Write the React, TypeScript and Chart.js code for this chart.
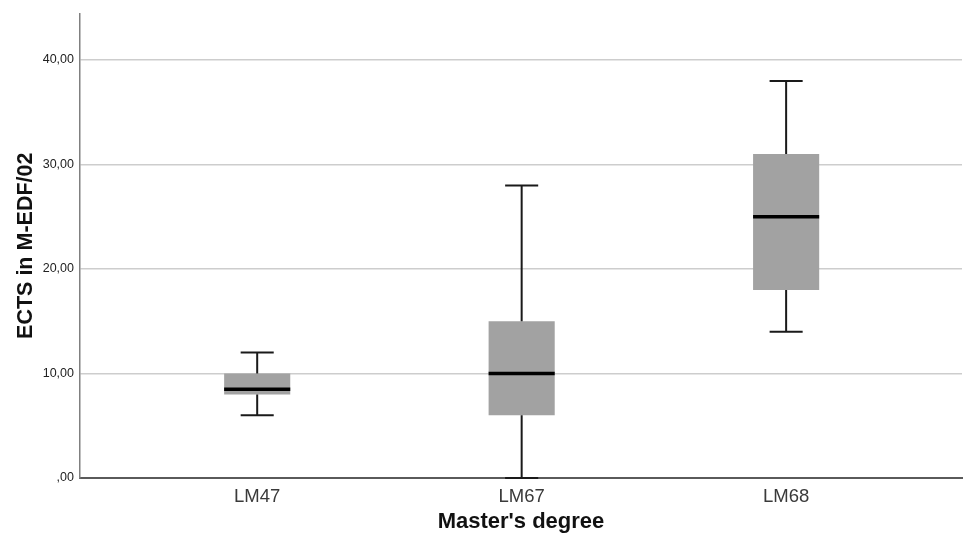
import React, { useEffect, useRef } from "react";
import { Chart, registerables } from "chart.js";

Chart.register(...registerables);

const categories = ["LM47", "LM67", "LM68"];
const minValues = [6, 0, 14];
const q1Values = [8, 6, 18];
const medianValues = [8.5, 10, 25];
const q3Values = [10, 15, 31];
const maxValues = [12, 28, 38];
const yTickValues = [0, 10, 20, 30, 40];

const FONT = "'Liberation Sans', Arial, Helvetica, sans-serif";

const boxWhiskerPlugin = {
  id: "boxWhiskers",
  afterDatasetsDraw(chart: any) {
    const meta = chart.getDatasetMeta(0);
    const yScale = chart.scales.y;
    const ctx = chart.ctx;
    ctx.save();
    meta.data.forEach((el: any, i: number) => {
      const { x, width } = el.getProps(["x", "width"], true);
      const half = width / 2;
      const cap = width / 4;
      const pMin = yScale.getPixelForValue(minValues[i]);
      const pMax = yScale.getPixelForValue(maxValues[i]);
      const pQ1 = yScale.getPixelForValue(q1Values[i]);
      const pQ3 = yScale.getPixelForValue(q3Values[i]);
      const pMed = yScale.getPixelForValue(medianValues[i]);
      ctx.strokeStyle = "#1a1a1a";
      ctx.lineWidth = 2;
      ctx.lineCap = "butt";
      ctx.beginPath();
      ctx.moveTo(x, pQ3);
      ctx.lineTo(x, pMax);
      ctx.moveTo(x - cap, pMax);
      ctx.lineTo(x + cap, pMax);
      ctx.moveTo(x, pQ1);
      ctx.lineTo(x, pMin);
      ctx.moveTo(x - cap, pMin);
      ctx.lineTo(x + cap, pMin);
      ctx.stroke();
      ctx.strokeStyle = "#000000";
      ctx.lineWidth = 3.5;
      ctx.beginPath();
      ctx.moveTo(x - half, pMed);
      ctx.lineTo(x + half, pMed);
      ctx.stroke();
    });
    ctx.restore();
  },
};

export default function App() {
  const ref = useRef<HTMLCanvasElement>(null);

  useEffect(() => {
    if (!ref.current) return;
    const boxData = categories.map((_, i) => ({ x: i, y: [q1Values[i], q3Values[i]] }));
    const chart = new Chart(ref.current, {
      type: "bar",
      data: {
        datasets: [
          {
            data: boxData as any,
            backgroundColor: "#a2a2a2",
            borderWidth: 0,
            barPercentage: 0.25,
            categoryPercentage: 1,
          },
        ],
      },
      options: {
        animation: false,
        responsive: false,
        devicePixelRatio: 1,
        layout: { padding: { left: 0, right: 1, top: 10, bottom: 0 } },
        plugins: {
          legend: { display: false },
          tooltip: { enabled: false },
        },
        scales: {
          x: {
            type: "linear",
            offset: false,
            min: -0.67,
            max: 2.665,
            grid: { display: false, drawTicks: false, offset: false },
            border: { display: true, color: "#5a5a5a", width: 2 },
            afterBuildTicks: (scale: any) => {
              scale.ticks = categories.map((_, i) => ({ value: i }));
            },
            afterFit: (scale: any) => {
              scale.height = 62;
            },
            ticks: {
              autoSkip: false,
              maxRotation: 0,
              padding: 8,
              color: "#3a3a3a",
              font: { family: FONT, size: 18.5 },
              callback: (v: any) => categories[Math.round(Number(v))] ?? "",
            },
            title: {
              display: true,
              text: "Master's degree",
              color: "#111111",
              font: { family: FONT, size: 22, weight: "bold" },
              padding: { top: 0, bottom: 5 },
            },
          },
          y: {
            type: "linear",
            min: 0,
            max: 44.45,
            afterBuildTicks: (scale: any) => {
              scale.ticks = yTickValues.map((v) => ({ value: v }));
            },
            afterFit: (scale: any) => {
              scale.width = 80;
            },
            grid: {
              drawTicks: false,
              lineWidth: 1.5,
              color: (c: any) => (c.tick && c.tick.value === 0 ? "rgba(0,0,0,0)" : "#cdcdcd"),
            },
            border: { display: true, color: "#808080", width: 1.5 },
            ticks: {
              padding: 6,
              color: "#222222",
              font: { family: FONT, size: 12.5 },
              callback: (v: any) => {
                const n = Number(v);
                return n === 0 ? ",00" : n.toFixed(2).replace(".", ",");
              },
            },
            title: {
              display: true,
              text: "ECTS in M-EDF/02",
              color: "#111111",
              font: { family: FONT, size: 21.5, weight: "bold" },
              padding: { top: 13, bottom: 0 },
            },
          },
        },
      },
      plugins: [boxWhiskerPlugin],
    } as any);
    return () => chart.destroy();
  }, []);

  return (
    <div style={{ position: "fixed", left: 0, top: 0, width: 963, height: 540, background: "#ffffff" }}>
      <canvas ref={ref} width={963} height={540} style={{ display: "block", width: 963, height: 540 }} />
    </div>
  );
}
